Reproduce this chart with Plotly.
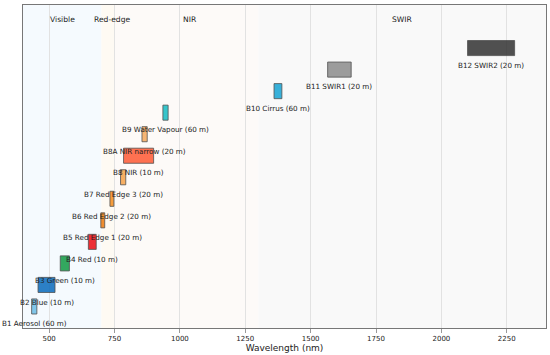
import plotly.graph_objects as go

bands = ["B1", "B2", "B3", "B4", "B5", "B6", "B7", "B8", "B8A", "B9", "B10", "B11", "B12"]
names = ["Aerosol", "Blue", "Green", "Red", "Red Edge 1", "Red Edge 2", "Red Edge 3",
         "NIR", "NIR narrow", "Water Vapour", "Cirrus", "SWIR1", "SWIR2"]
centers = [443, 490, 560, 665, 705, 740, 783, 842, 865, 945, 1375, 1610, 2190]
widths = [20, 65, 35, 30, 15, 15, 20, 115, 20, 20, 30, 90, 180]
resolution = [60, 10, 10, 10, 20, 20, 20, 10, 20, 60, 60, 20, 20]
colors = ["#6cbde6", "#0a6bbd", "#129a44", "#ec0c12", "#ee7a0c", "#f58c1c", "#f7a24a",
          "#ff5a35", "#f7aa5c", "#14bcc4", "#16a4d4", "#8c8c8c", "#333333"]

regions = ["Visible", "Red-edge", "NIR", "SWIR"]
region_start = [400, 700, 750, 1300]
region_end = [700, 750, 1300, 2400]
region_label_x = [550, 740, 1040, 1850]
region_colors = ["#f5fafe", "#fefaf3", "#fdfaf8", "#f9f9f9"]

x_ticks = [500, 750, 1000, 1250, 1500, 1750, 2000, 2250]

fig = go.Figure()

for i, b in enumerate(bands):
    fig.add_trace(go.Bar(
        y=[i], x=[widths[i]], base=[centers[i] - widths[i] / 2],
        orientation="h", width=0.7,
        marker=dict(color=colors[i], opacity=0.85, line=dict(color="#333333", width=0.8)),
        showlegend=False, hoverinfo="skip",
    ))
    fig.add_annotation(x=centers[i], y=i - 0.8, text=f"{b} {names[i]} ({resolution[i]} m)",
                       showarrow=False, font=dict(size=7.2, color="#222222"),
                       xanchor="center", yanchor="middle")

for k, r in enumerate(regions):
    fig.add_shape(type="rect", xref="x", yref="paper", x0=region_start[k], x1=region_end[k],
                  y0=0, y1=1, fillcolor=region_colors[k], line=dict(width=0), layer="below")
    fig.add_annotation(x=region_label_x[k], y=13.35, text=r, showarrow=False,
                       font=dict(size=7.6, color="#222222"), xanchor="center", yanchor="middle")

fig.update_layout(
    width=550, height=355,
    margin=dict(l=23, r=4, t=5, b=27, autoexpand=False),
    paper_bgcolor="white", plot_bgcolor="white",
    font=dict(family="DejaVu Sans", color="#222222"),
    barmode="overlay",
)
fig.update_xaxes(range=[400, 2400], tickvals=x_ticks, ticktext=[str(v) for v in x_ticks],
                 showgrid=True, gridcolor="#e2e2e2", gridwidth=1,
                 showline=True, linecolor="#777777", linewidth=1, mirror=True,
                 ticks="outside", ticklen=4, tickcolor="#999999",
                 tickfont=dict(size=7), zeroline=False, automargin=False,
                 title=dict(text="Wavelength (nm)", font=dict(size=9), standoff=0))
fig.update_yaxes(range=[-1, 14], showticklabels=False, showgrid=False, zeroline=False,
                 showline=True, linecolor="#777777", linewidth=1, mirror=True, ticks="",
                 automargin=False)

fig.write_html("out.html", config={"displayModeBar": False},
               post_script="document.body.style.margin='0px';")
